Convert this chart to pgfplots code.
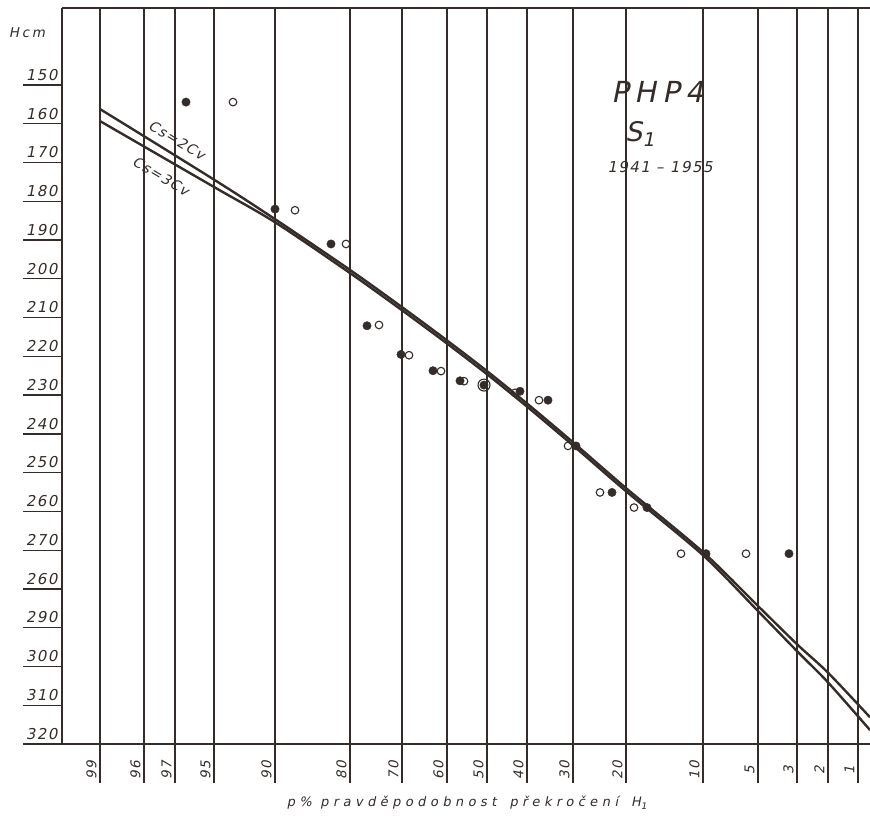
\documentclass[border=0pt]{standalone}
\usepackage{fontspec}
\setmainfont{DejaVu Sans}
\newfontfamily\hand{DejaVu Sans}[FakeSlant=0.2, LetterSpace=10]
\newfontfamily\handw{DejaVu Sans}[FakeSlant=0.2, LetterSpace=20]
\newfontfamily\handxl{DejaVu Sans}[FakeSlant=0.2, LetterSpace=34]
\usepackage{pgfplots}
\pgfplotsset{compat=1.18}
\usetikzlibrary{calc}
\definecolor{ink}{RGB}{52,44,40}

\begin{document}
\begin{tikzpicture}
\begin{axis}[
  name=ax,
  scale only axis, width=808pt, height=736pt,
  xmin=62, xmax=870, ymin=130.13, ymax=320, y dir=reverse,
  axis y line*=left,
  clip=false,
  /pgf/number format/assume math mode=true,
  xtick={100,144,175,214,275,350,402,447,487,527,573,626,703,758,797,828,858},
  xticklabels={99,96,97,95,90,80,70,60,50,40,30,20,10,5,3,2,1},
  ytick={150,160,170,180,190,200,210,220,230,240,250,260,270,280,290,300,310,320},
  yticklabels={150,160,170,180,190,200,210,220,230,240,250,260,270,260,290,300,310,320},
  xtick pos=bottom, ytick pos=left,
  tick align=outside, major tick length=39pt,
  xmajorgrids, grid style={ink, line width=1.3pt},
  tick style={ink, line width=1.3pt},
  axis line style={ink, line width=1.5pt},
  xticklabel style={rotate=90, anchor=south, xshift=13pt, font=\hand\fontsize{13.5}{13.5}\selectfont, text=ink},
  yticklabel style={anchor=south east, xshift=38pt, yshift=1pt, font=\hand\fontsize{15}{15}\selectfont, text=ink},
]
% Cs = 2Cv
\addplot[ink, line width=2.4pt, smooth] coordinates {
 (100,156.2) (214,174.4) (275,184.6) (350,197.7) (402,207.3) (445,215.5)
 (487,223.8) (530,232.8) (575,242.6) (627,254.2) (703,270.5) (758,284.4) (798,294.5)
 (828,301.6) (870,313.1)};
% Cs = 3Cv
\addplot[ink, line width=2.4pt, smooth] coordinates {
 (100,159.3) (214,176.3) (275,185.4) (350,198.5) (402,208.1) (445,216.3)
 (487,224.6) (530,233.6) (575,243.4) (627,255.0) (703,271.3) (758,285.7) (798,296.3)
 (828,304.1) (870,316.4)};
% filled points
\addplot[only marks, mark=*, mark size=4.2pt, ink, mark options={fill=ink}] coordinates {
 (186,154.4) (275,182.0) (331,191.0) (367,212.1) (401,219.5) (433,223.7) (460,226.3)
 (484,227.4) (520,229.0) (548,231.3) (576,243.1) (612,255.1) (647,259.0) (706,270.9)
 (789,270.9)};
% open points
\addplot[only marks, mark=o, mark size=3.8pt, ink, mark options={line width=1.1pt, fill=white}] coordinates {
 (233,154.4) (295,182.3) (346,191.0) (379,211.9) (409,219.7) (441,223.8) (464,226.4)
 (515,229.4) (539,231.3) (568,243.1) (600,255.1) (634,259.0) (681,270.9) (746,270.9)};
\addplot[only marks, mark=o, mark size=6pt, ink, mark options={line width=1.1pt}] coordinates {(484,227.4)};
% texts
\node[ink, font=\hand\fontsize{14}{14}\selectfont, rotate=-31] at (axis cs:177,164.2) {Cs=2Cv};
\node[ink, font=\hand\fontsize{14}{14}\selectfont, rotate=-31] at (axis cs:161,173.5) {Cs=3Cv};
\node[ink, font=\handw\fontsize{29}{29}\selectfont] at (axis cs:658,151.8) {PHP4};
\node[ink, font=\handw\fontsize{27}{27}\selectfont] at (axis cs:640,162.6) {S\textsubscript{1}};
\node[ink, font=\hand\fontsize{15}{15}\selectfont] at (axis cs:660,171.2) {1941 – 1955};
\node[ink, font=\handw\fontsize{13.5}{13.5}\selectfont] at (axis cs:27,136.6) {Hcm};
\node[ink, font=\handxl\fontsize{13}{13}\selectfont] at (axis cs:467,335.2) {p\% pravděpodobnost\quad překročení\quad H\textsubscript{1}};
\end{axis}
\pgfresetboundingbox
\path ($(ax.south west)+(-62pt,-79pt)$) rectangle ($(ax.north east)+(0pt,8pt)$);
\end{tikzpicture}
\end{document}
